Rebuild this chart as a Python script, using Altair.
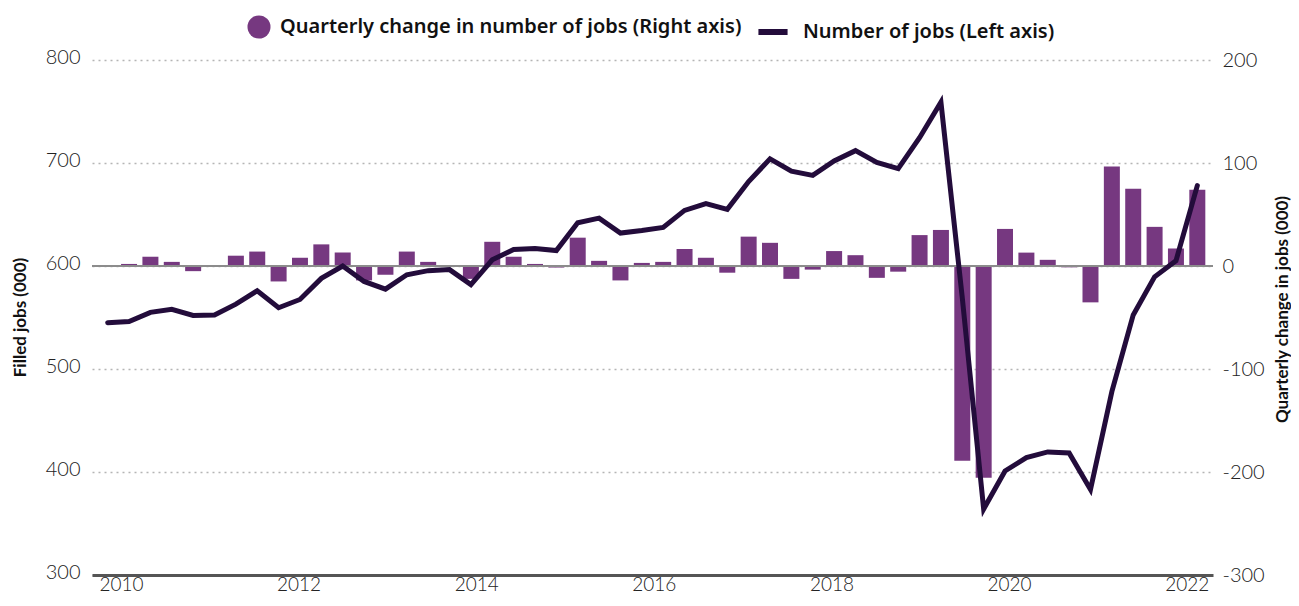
import altair as alt
import pandas as pd

# ---------------- data ----------------
quarters = [f"{y} Q{q}" for y in range(2010, 2023) for q in (1, 2, 3, 4)]

filled_jobs = [545, 546, 555, 558, 552, 552.5, 563, 576, 559.5, 567.5, 588, 600,
               585, 577.5, 591.5, 595.5, 596.5, 582, 606, 616, 617, 615, 642, 646.5,
               632, 634.5, 637.5, 654, 660.5, 655, 682, 704, 692, 688, 702, 712,
               700.5, 694.5, 724.5, 759, 569, 364, 401, 414, 419.5, 418.5, 383, 478,
               552.5, 589.5, 605, 678]

quarterly_change = [None, 2, 9, 4, -5, 1, 10, 14, -15, 8, 21, 13,
                    -14, -8.5, 14, 4, 1, -12.5, 23.5, 9, 2, -1.5, 27.5, 5,
                    -14, 3, 4, 16.5, 8, -6.5, 28.5, 22.5, -12.5, -3.5, 14.5, 10.5,
                    -11.5, -5.5, 30, 35, -189, -205.5, 36, 13, 6, -1.3, -35.3, 96.5,
                    75, 38, 17, 74]

year_labels = [2010, 2012, 2014, 2016, 2018, 2020, 2022]
left_ticks = [300, 400, 500, 600, 700, 800]
right_ticks = [-300, -200, -100, 0, 100, 200]

BAR_NAME = "Quarterly change in number of jobs (Right axis)"
LINE_NAME = "Number of jobs (Left axis)"

PURPLE = "#763880"
DARK = "#230c3b"
NUM_FONT = "Lato"
TXT_FONT = "Noto Sans"
NUM_SIZE = 20
NUM_COLOR = "#222222"

df = pd.DataFrame({
    "idx": list(range(len(quarters))),
    "quarter": quarters,
    "jobs": filled_jobs,
    "change": quarterly_change,
})
df["bar_series"] = BAR_NAME
df["line_series"] = LINE_NAME

# label placement along the quarter index (matches reference label positions)
LBL0, LBL_STEP = 0.62, 4.157
tick_pos = [LBL0 + (y - year_labels[0]) * LBL_STEP for y in year_labels]

x_enc = alt.X(
    "idx:Q",
    scale=alt.Scale(domain=[-0.5, len(quarters) - 0.5], nice=False, zero=False),
    axis=alt.Axis(
        title=None, values=tick_pos,
        labelExpr=f"format(round({year_labels[0]} + (datum.value - {LBL0}) / {LBL_STEP}), 'd')",
        grid=False, ticks=False, domain=True, domainColor="#555555", domainWidth=3,
        labelPadding=0, labelFont=NUM_FONT, labelFontSize=19, labelFontWeight=300,
        labelColor=NUM_COLOR, labelFlush=False,
    ),
)

bars = alt.Chart(df).transform_filter("isValid(datum.change)").mark_bar(size=16).encode(
    x=x_enc,
    y=alt.Y(
        "change:Q",
        scale=alt.Scale(domain=[-300, 200], nice=False),
        axis=alt.Axis(
            orient="right", title="Quarterly change in jobs (000)", values=right_ticks,
            labelExpr="'' + datum.value",
            grid=False, ticks=False, domain=False, labelPadding=9,
            labelFont=NUM_FONT, labelFontSize=NUM_SIZE, labelFontWeight=300, labelColor=NUM_COLOR,
            titleFont="Lato", titleFontSize=17, titleFontWeight="bold", titleColor="#111111",
            titleAngle=-90, titleX=69, titleY=249, titleAlign="center", titleBaseline="middle",
        ),
    ),
    color=alt.Color(
        "bar_series:N", scale=alt.Scale(range=[PURPLE]),
        legend=alt.Legend(
            title=None, orient="none", legendX=155, legendY=-45, symbolType="circle",
            symbolSize=530, symbolStrokeWidth=0, symbolOpacity=1, labelOffset=9,
            labelFont=TXT_FONT, labelFontSize=20, labelFontWeight=600, labelColor="#111111",
            labelLimit=700,
        ),
    ),
)

zero_rule = alt.Chart(df).mark_rule(color="#8c8c8c", strokeWidth=2).encode(
    y=alt.datum(0)
)

line = alt.Chart(df).mark_line(strokeWidth=5, strokeCap="round").encode(
    x=x_enc,
    y=alt.Y(
        "jobs:Q",
        scale=alt.Scale(domain=[300, 800], nice=False, zero=False),
        axis=alt.Axis(
            orient="left", title="Filled jobs (000)", values=left_ticks,
            grid=True, gridDash=[2, 4], gridColor="#b5b5b5", gridWidth=1.5,
            ticks=False, domain=False, labelPadding=12, labelOffset=-3,
            labelFont=NUM_FONT, labelFontSize=NUM_SIZE, labelFontWeight=300, labelColor=NUM_COLOR,
            titleFont="Lato", titleFontSize=17, titleFontWeight="bold", titleColor="#111111",
            titleAngle=-90, titleX=-72, titleY=257, titleAlign="center", titleBaseline="middle",
        ),
    ),
    color=alt.Color(
        "line_series:N", scale=alt.Scale(range=[DARK]),
        legend=alt.Legend(
            title=None, orient="none", legendX=663, legendY=-46, symbolType="stroke",
            symbolSize=850, symbolStrokeWidth=6, labelOffset=12,
            labelFont=TXT_FONT, labelFontSize=20, labelFontWeight=600, labelColor="#111111",
            labelLimit=700,
        ),
    ),
)

chart = alt.layer(alt.layer(bars, zero_rule), line).resolve_scale(
    y="independent", color="independent"
).properties(
    width=1121, height=515,
    autosize=alt.AutoSizeParams(type="none"),
    padding={"left": 84, "top": 52, "right": 78, "bottom": 23},
).configure(
    background="white",
    view=alt.ViewConfig(strokeWidth=0, stroke="transparent"),
)

chart.save("out.html", embed_options={"renderer": "svg", "actions": False})
